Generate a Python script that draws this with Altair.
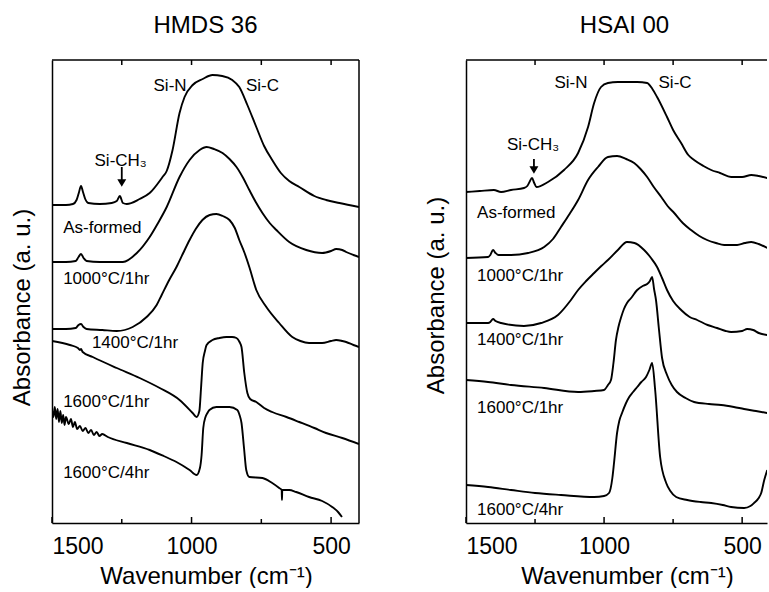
import altair as alt
import pandas as pd

FONT = "Liberation Sans"

# ---------------- Left panel: HMDS 36 (wavenumber cm-1, absorbance a.u.) ----------------
L_ASF_WN = [1500,1450,1425,1412,1404,1396,1389,1381,1370,1329,1286,1268,1257,1246,1232,1186,1150,1104,1089,1068,1043,1025,996,960,925,890,854,829,800,768,740,711,680,650,614,560,518,470,400]
L_ASF_A = [318,318,319,323,330,337,331,324,320,319,320,322,327,320,319,324,330,346,352,373,410,426,438,444,448,447,443,436,418,396,377,363,350,342,336,327,323,320,316]

L_1000_WN = [1500,1450,1415,1405,1396,1387,1376,1329,1246,1196,1150,1120,1089,1043,1007,971,946,920,889,864,839,815,793,770,746,720,696,650,589,532,500,482,460,446,420,400]
L_1000_A = [261,261,262,266,269,265,262,261,261,270,286,300,316,346,363,373,376,374,370,364,356,345,333,321,310,300,293,281,273,270,272,274,273,271,268,266]

L_1400_WN = [1500,1450,1415,1405,1396,1387,1376,1320,1268,1211,1161,1125,1107,1080,1054,1030,1007,985,961,935,911,888,864,845,829,810,793,768,732,686,639,610,579,532,500,482,460,446,420,400]
L_1400_A = [194,194,195,198,199,196,194,193,192,196,206,218,228,243,256,270,283,294,303,308,309,307,303,295,283,270,256,233,216,200,186,182,180,180,182,183,182,181,178,176]

L_16H1_WN = [1500,1436,1407,1400,1396,1390,1354,1268,1186,1114,1043,996,982,972,966,960,952,946,925,900,875,855,839,828,821,811,800,790,768,740,711,660,614,560,518,460,400]
L_16H1_A = [182,178,175,173,174,171,166,155,145,135,123,110,106,112,135,160,172,178,183,185,186,186,185,181,176,150,130,124,121,115,111,106,101,95,90,85,79]

L_16H4_WN = [1500,1495,1490,1485,1480,1475,1470,1465,1460,1455,1450,1440,1432,1425,1418,1410,1400,1390,1380,1370,1360,1350,1340,1330,1320,1300,1232,1150,1100,1054,1007,982,970,964,958,950,943,936,911,864,836,828,821,812,804,793,746,711,686,677,676,675,650,625,579,532,496,475,461]
L_16H4_A = [113,106,116,104,114,101,112,100,108,98,106,99,104,96,101,94,97,92,95,90,93,88,91,87,89,86,80,73,67,61,53,48,55,68,95,106,110,113,116,116,113,108,100,75,53,46,45,40,35,33,23,33,33,31,26,22,16,11,6]

# ---------------- Right panel: HSAI 00 ----------------
R_ASF_WN = [1500,1450,1399,1373,1337,1290,1278,1270,1261,1253,1245,1203,1145,1094,1058,1036,1011,986,950,928,880,844,825,808,772,750,721,695,674,640,612,580,540,500,467,440,409]
R_ASF_A = [331,332,333,331,333,335,337,341,345,340,336,341,353,370,396,420,436,440,441,441,441,440,434,426,406,393,380,368,363,357,353,350,346,346,348,347,345]

R_1000_WN = [1500,1420,1412,1402,1393,1382,1337,1275,1217,1185,1156,1125,1094,1058,1022,986,953,920,891,868,844,820,793,770,746,715,685,655,627,595,565,518,490,467,440,409]
R_1000_A = [265,266,268,273,270,268,268,270,276,284,296,309,323,343,356,366,367,364,360,354,346,336,326,317,310,300,293,287,283,280,278,278,280,281,279,275]

R_1400_WN = [1500,1420,1412,1402,1393,1373,1290,1228,1167,1120,1094,1065,1036,1010,986,950,917,890,855,830,808,790,772,750,721,690,663,625,591,560,540,500,482,460,440,409]
R_1400_A = [200,200,201,204,202,200,197,200,208,223,233,242,250,257,263,273,281,280,273,265,256,245,233,222,213,206,203,198,195,192,191,192,194,193,190,188]

R_16H1_WN = [1500,1420,1337,1217,1094,1036,1000,986,975,966,957,948,938,928,917,902,880,860,844,834,826,819,812,801,790,772,755,736,705,674,620,576,530,493,450,409]
R_16H1_A = [143,141,138,135,131,132,133,138,143,160,183,196,206,214,220,225,233,237,239,242,246,234,223,193,165,148,138,131,125,121,119,118,116,114,112,110]

R_16H4_WN = [1500,1420,1337,1250,1156,1036,1000,982,970,964,953,945,935,922,909,895,880,865,848,836,826,815,797,775,760,739,699,650,612,570,540,493,470,457,440,431,420,409]
R_16H4_A = [38,36,33,30,28,26,27,30,45,60,90,102,110,119,126,131,136,141,146,153,160,133,66,40,32,26,23,21,20,18,16,15,17,20,25,30,43,53]

# ---------------- Labels ----------------
CURVE_LABELS = ["As-formed", "1000°C/1hr", "1400°C/1hr", "1600°C/1hr", "1600°C/4hr"]
L_LAB_WN = [1460, 1460, 1357, 1460, 1460]
L_LAB_A = [295, 244, 180, 121, 50]
R_LAB_WN = [1460, 1460, 1460, 1460, 1460]
R_LAB_A = [310, 247, 183, 115, 13]

PEAK_LABELS = ["Si-N", "Si-C", "Si-CH₃"]
L_PEAK_WN = [1077, 746, 1254]
L_PEAK_A = [437, 437, 362]
R_PEAK_WN = [1120, 743, 1257]
R_PEAK_A = [440, 440, 378]

# Si-CH3 arrows: wavenumber, start and tip absorbance
L_ARROW = (1250, 356, 336)
R_ARROW = (1254, 364, 349)

TICK_MAJOR = [1500, 1000, 500]
TICK_MINOR = [1250, 750]
TICK_TOP = [1250, 1000, 750, 500]

H = 463


def series_df(items):
    rows = []
    for name, wn, a in items:
        assert len(wn) == len(a), name
        for w, v in zip(wn, a):
            rows.append({"series": name, "wn": w, "a": v})
    return pd.DataFrame(rows)


def panel(items, lab_wn, lab_a, peak_wn, peak_a, arrow, title, title_dx,
          xmin, width, right_border, xtitle_x, ytitle_y):
    xs = alt.Scale(domain=[xmin, 1500], reverse=True, nice=False, zero=False)
    ys = alt.Scale(domain=[0, H], nice=False, zero=False)
    xaxis = alt.Axis(values=TICK_MAJOR, format="d", title="Wavenumber (cm⁻¹)",
                     labelFontSize=23, titleFontSize=24, labelPadding=12,
                     titlePadding=6, ticks=False, grid=False,
                     domainColor="black", domainWidth=1.5,
                     labelColor="black", titleColor="black",
                     labelFont=FONT, titleFont=FONT, titleFontWeight="normal",
                     titleX=xtitle_x)
    yaxis = alt.Axis(title="Absorbance (a. u.)", labels=False, ticks=False,
                     grid=False, domainColor="black", domainWidth=1.5,
                     titleFontSize=24, titleFont=FONT, titleFontWeight="normal",
                     titleColor="black", titlePadding=18, titleY=ytitle_y)
    X = alt.X("wn:Q", scale=xs, axis=xaxis)
    Y = alt.Y("a:Q", scale=ys, axis=yaxis)

    df = series_df(items)
    lines = alt.Chart(df).mark_line(color="black", strokeWidth=1.9,
                                    interpolate="monotone", clip=True).encode(
        x=X, y=Y, detail="series:N")

    lab_df = pd.DataFrame({"wn": lab_wn, "a": lab_a, "t": CURVE_LABELS})
    labs = alt.Chart(lab_df).mark_text(align="left", baseline="middle", font=FONT,
                                       fontSize=17, color="black").encode(
        x=X, y=Y, text="t:N")

    pk_df = pd.DataFrame({"wn": peak_wn, "a": peak_a, "t": PEAK_LABELS})
    pks = alt.Chart(pk_df).mark_text(align="center", baseline="middle", font=FONT,
                                     fontSize=17, color="black").encode(
        x=X, y=Y, text="t:N")

    ar_df = pd.DataFrame({"wn": [arrow[0]], "a": [arrow[1]], "a2": [arrow[2] + 6]})
    shaft = alt.Chart(ar_df).mark_rule(color="black", strokeWidth=1.8).encode(
        x=X, y=Y, y2="a2:Q")
    hd_df = pd.DataFrame({"wn": [arrow[0]], "a": [arrow[2] + 4]})
    head = alt.Chart(hd_df).mark_point(shape="triangle-down", filled=True,
                                        color="black", size=80, opacity=1).encode(
        x=X, y=Y)

    tmaj = alt.Chart(pd.DataFrame({"wn": TICK_MAJOR})).mark_rule(
        color="black", strokeWidth=1.5).encode(x=X, y=alt.value(H), y2=alt.value(H - 6))
    tmin = alt.Chart(pd.DataFrame({"wn": TICK_MINOR})).mark_rule(
        color="black", strokeWidth=1.5).encode(x=X, y=alt.value(H), y2=alt.value(H - 4))
    ttop = alt.Chart(pd.DataFrame({"wn": TICK_TOP})).mark_rule(
        color="black", strokeWidth=1.5).encode(x=X, y=alt.value(0), y2=alt.value(5))

    top = alt.Chart().mark_rule(color="black", strokeWidth=1.5).encode(
        x=alt.value(0), x2=alt.value(width), y=alt.value(0))
    layers = [lines, labs, pks, shaft, head, tmaj, tmin, ttop, top]
    if right_border:
        rb = alt.Chart().mark_rule(color="black", strokeWidth=1.5).encode(
            x=alt.value(width), y=alt.value(0), y2=alt.value(H))
        layers.append(rb)

    return alt.layer(*layers).properties(
        width=width, height=H,
        title=alt.TitleParams(text=title, fontSize=24, font=FONT,
                              fontWeight="normal", color="black",
                              offset=21, dx=title_dx, anchor="middle"))


left = panel(
    [("As-formed", L_ASF_WN, L_ASF_A), ("1000", L_1000_WN, L_1000_A),
     ("1400", L_1400_WN, L_1400_A), ("1600-1", L_16H1_WN, L_16H1_A),
     ("1600-4", L_16H4_WN, L_16H4_A)],
    L_LAB_WN, L_LAB_A, L_PEAK_WN, L_PEAK_A, L_ARROW, "HMDS 36", 0,
    400, 307, True, 154, 247)

right = panel(
    [("As-formed", R_ASF_WN, R_ASF_A), ("1000", R_1000_WN, R_1000_A),
     ("1400", R_1400_WN, R_1400_A), ("1600-1", R_16H1_WN, R_16H1_A),
     ("1600-4", R_16H4_WN, R_16H4_A)],
    R_LAB_WN, R_LAB_A, R_PEAK_WN, R_PEAK_A, R_ARROW, "HSAI 00", 8,
    410, 301, False, 161, 235)

chart = alt.hconcat(left, right, spacing=64).properties(
    padding={"left": 10, "top": 14, "right": 0, "bottom": 0},
    background="white",
).configure_view(stroke=None)

chart.save("out.html", embed_options={"renderer": "svg", "actions": False})
